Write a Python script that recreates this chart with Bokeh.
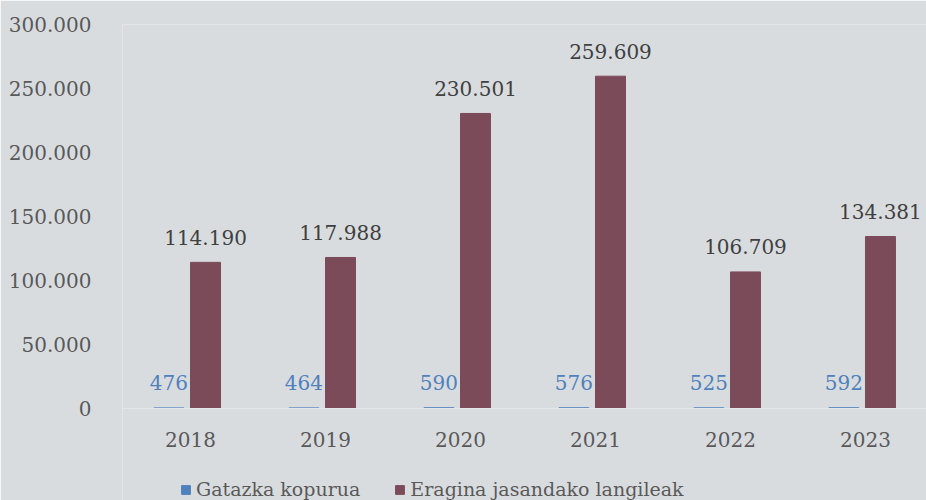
from bokeh.plotting import figure
from bokeh.models import ColumnDataSource, Range1d, FixedTicker, CustomJSTickFormatter, Legend, LegendItem
from bokeh.embed import file_html
from bokeh.resources import INLINE
from bokeh.core.properties import value

years = [2018, 2019, 2020, 2021, 2022, 2023]
gatazka = [476, 464, 590, 576, 525, 592]
langileak = [114190, 117988, 230501, 259609, 106709, 134381]
series_names = ["Gatazka kopurua", "Eragina jasandako langileak"]
y_ticks = [0, 50000, 100000, 150000, 200000, 250000, 300000]

def fmt(v):
    return f"{v:,}".replace(",", ".")

BG = "#d9dcdf"
BLUE = "#4f81bd"
MAROON = "#7b4b5a"
FONT = "DejaVu Serif"

src_a = ColumnDataSource(dict(x=[y - 0.16 for y in years], top=gatazka, lab=[fmt(v) for v in gatazka]))
src_b = ColumnDataSource(dict(x=[y + 0.111 for y in years], top=langileak, lab=[fmt(v) for v in langileak]))

# frame spans full height below the top border; zero line sits 92px above the bottom
p = figure(width=926, height=500, output_backend="svg", toolbar_location=None,
           x_range=Range1d(2017.496, 2023.452), y_range=Range1d(-71875, 300000),
           min_border_left=122, min_border_right=0, min_border_top=24, min_border_bottom=0)
p.background_fill_color = BG
p.border_fill_color = BG
p.outline_line_color = None
p.grid.visible = False

ra = p.vbar(x="x", top="top", width=0.222, bottom=0, source=src_a, color=BLUE)
rb = p.vbar(x="x", top="top", width=0.222, bottom=0, source=src_b, color=MAROON)

p.text(x="x", y="top", text="lab", source=src_a, text_align="center", text_baseline="middle",
       y_offset=-25, text_font=value(FONT), text_font_size="20px", text_color=BLUE)
p.text(x="x", y="top", text="lab", source=src_b, text_align="center", text_baseline="middle",
       y_offset=-25, text_font=value(FONT), text_font_size="20px", text_color="#404040")

p.yaxis.ticker = FixedTicker(ticks=y_ticks)
p.yaxis.formatter = CustomJSTickFormatter(code="return tick.toString().replace(/\\B(?=(\\d{3})+(?!\\d))/g, '.');")
p.yaxis.axis_line_color = None
p.yaxis.major_tick_line_color = None
p.yaxis.minor_tick_line_color = None
p.yaxis.major_label_standoff = 25
p.yaxis.major_label_text_font = FONT
p.yaxis.major_label_text_font_size = "20px"
p.yaxis.major_label_text_color = "#595959"

p.xaxis.fixed_location = 0
p.xaxis.ticker = FixedTicker(ticks=years)
p.xaxis.axis_line_color = "#e6e6e6"
p.xaxis.major_tick_line_color = None
p.xaxis.minor_tick_line_color = None
p.xaxis.major_label_standoff = 17
p.xaxis.major_label_text_font = FONT
p.xaxis.major_label_text_font_size = "20px"
p.xaxis.major_label_text_color = "#595959"

legend = Legend(items=[LegendItem(label=series_names[0], renderers=[ra]),
                       LegendItem(label=series_names[1], renderers=[rb])],
                orientation="horizontal", location=(58, 0),
                glyph_width=11, glyph_height=11, label_standoff=5, spacing=34,
                padding=0, margin=0, background_fill_alpha=0, border_line_color=None,
                label_text_font=FONT, label_text_font_size="19px", label_text_color="#595959")
p.add_layout(legend, "center")

open("out.html", "w").write(file_html(p, INLINE))
